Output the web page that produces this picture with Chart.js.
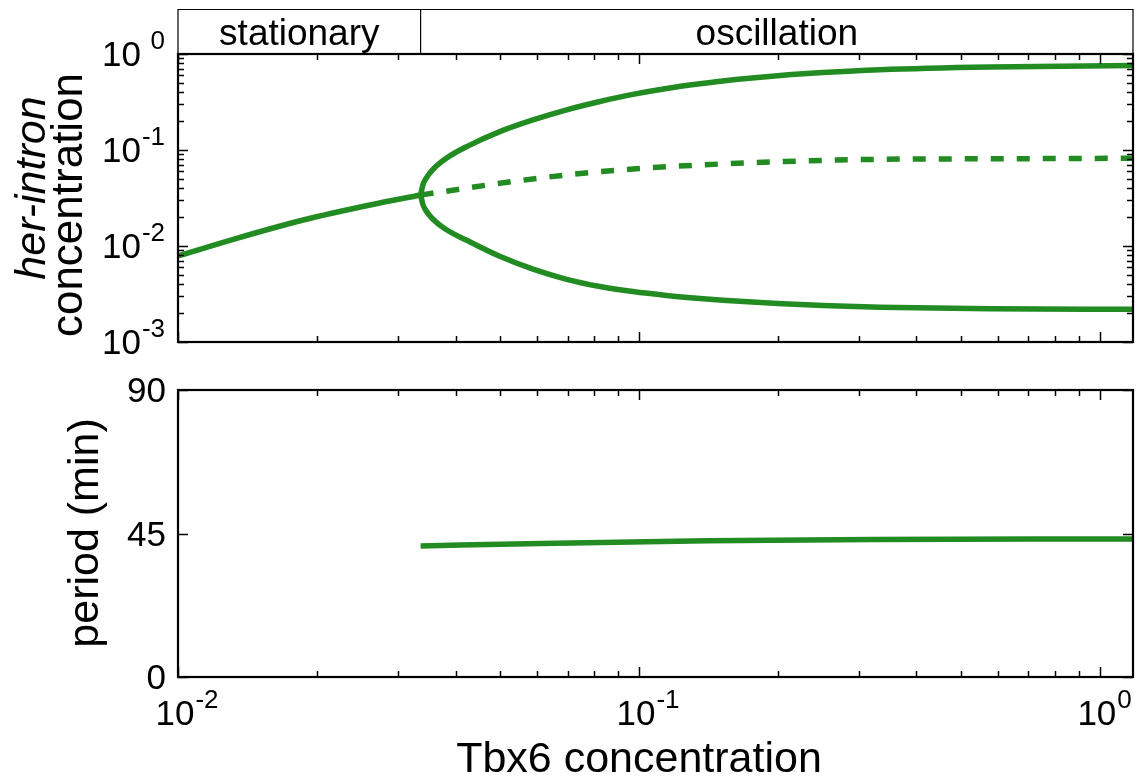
<!DOCTYPE html>
<html>
<head>
<meta charset="utf-8">
<title>her-intron bifurcation</title>
<script src="https://cdn.jsdelivr.net/npm/chart.js@4.4.0/dist/chart.umd.min.js"></script>
<style>
  body { margin: 0; background: #fff; }
  #wrap { position: relative; width: 1139px; height: 779px; }
  canvas { position: absolute; left: 0; top: 0; }
</style>
</head>
<body>
<div id="wrap">
  <canvas id="top" width="1139" height="779"></canvas>
  <canvas id="bottom" width="1139" height="779"></canvas>
</div>
<script>
// values
const regimes = ['stationary', 'oscillation'];
const bifurcationTbx6 = 0.0336;

const tbx6Stationary = [0.01, 0.01341, 0.0187, 0.02609, 0.0336];
const herStationary = [0.00787, 0.01203, 0.01866, 0.02674, 0.034];

const tbx6Osc = [0.0336, 0.0340, 0.0345, 0.0357, 0.0380, 0.0423, 0.0499, 0.0589, 0.0697, 0.0823, 0.097, 0.1148, 0.1356, 0.152, 0.200, 0.2506, 0.333, 0.577, 1.18];
const herMax = [0.034, 0.0436, 0.0504, 0.0626, 0.0806, 0.1085, 0.1555, 0.2059, 0.2622, 0.320, 0.3795, 0.4372, 0.4893, 0.5233, 0.5929, 0.6401, 0.6856, 0.7321, 0.7571];
const herMin = [0.034, 0.0269, 0.0234, 0.0191, 0.01503, 0.01147, 0.00781, 0.005733, 0.004498, 0.003785, 0.00335, 0.003051, 0.002838, 0.002725, 0.002518, 0.0024, 0.002304, 0.002215, 0.002191];

const tbx6Unstable = [0.0336, 0.0376, 0.0499, 0.0697, 0.097, 0.1295, 0.200, 0.333, 0.577, 1.18];
const herUnstable = [0.034, 0.0368, 0.045, 0.055, 0.0634, 0.069, 0.0755, 0.080, 0.081, 0.082];

const tbx6Period = [0.0336, 0.0614, 0.1405, 0.32, 1.18];
const periodMin = [41.1, 41.9, 42.7, 43.1, 43.3];

const xTickLabels = ['-2', '-1', '0'];
const yTickLabelsTop = ['0', '-1', '-2', '-3'];
const yTicksBottom = [0, 45, 90];

const GREEN = '#228b22';
const FONT = '"Liberation Sans", Arial, Helvetica, sans-serif';

function zip(xs, ys) {
  return xs.map((x, i) => ({ x: x, y: ys[i] }));
}

function logTicks(lo, hi) {
  const major = [], minor = [];
  for (let d = Math.floor(Math.log10(lo)); d <= Math.ceil(Math.log10(hi)); d++) {
    for (let k = 1; k <= 9; k++) {
      const v = k * Math.pow(10, d);
      if (v < lo * 0.999 || v > hi * 1.001) continue;
      (k === 1 ? major : minor).push(v);
    }
  }
  return { major, minor };
}

function drawTicks(ctx, chart, xt, yt) {
  const a = chart.chartArea;
  const xs = chart.scales.x, ys = chart.scales.y;
  ctx.save();
  ctx.strokeStyle = '#000';
  ctx.lineWidth = 1.5;
  ctx.beginPath();
  [[xt.major, 10], [xt.minor, 6]].forEach(([vals, len]) => {
    vals.forEach(v => {
      const px = Math.round(xs.getPixelForValue(v)) + 0.5;
      ctx.moveTo(px, a.bottom); ctx.lineTo(px, a.bottom - len);
      ctx.moveTo(px, a.top); ctx.lineTo(px, a.top + len);
    });
  });
  [[yt.major, 10], [yt.minor, 6]].forEach(([vals, len]) => {
    vals.forEach(v => {
      const py = Math.round(ys.getPixelForValue(v)) + 0.5;
      ctx.moveTo(a.left, py); ctx.lineTo(a.left + len, py);
      ctx.moveTo(a.right, py); ctx.lineTo(a.right - len, py);
    });
  });
  ctx.stroke();
  ctx.lineWidth = 2.2;
  ctx.strokeRect(a.left, a.top, a.right - a.left, a.bottom - a.top);
  ctx.restore();
}

// "10" with a raised exponent
function powLabel(ctx, exp, x, baseY, supY, align) {
  ctx.font = '35px ' + FONT;
  const wb = ctx.measureText('10').width;
  ctx.font = '26px ' + FONT;
  const ws = ctx.measureText(exp).width;
  ctx.textBaseline = 'alphabetic';
  ctx.textAlign = 'left';
  if (align === 'right') {
    ctx.font = '35px ' + FONT;
    ctx.fillText('10', 102, baseY);
    ctx.font = '26px ' + FONT;
    ctx.fillText(exp, Math.max(102 + wb + 1, x - ws), supY);
  } else {
    const x0 = x - wb / 2;
    ctx.font = '35px ' + FONT;
    ctx.fillText('10', x0, baseY);
    ctx.font = '26px ' + FONT;
    ctx.fillText(exp, x0 + wb + 1, supY);
  }
}

function rotText(ctx, text, font, x, y) {
  ctx.save();
  ctx.translate(x, y);
  ctx.rotate(-Math.PI / 2);
  ctx.font = font;
  ctx.textAlign = 'center';
  ctx.textBaseline = 'alphabetic';
  ctx.fillText(text, 0, 0);
  ctx.restore();
}

const xTicks = logTicks(0.01, 1.18);

const topDecor = {
  id: 'topDecor',
  afterDraw(chart) {
    const ctx = chart.ctx, a = chart.chartArea;
    const xs = chart.scales.x, ys = chart.scales.y;
    drawTicks(ctx, chart, xTicks, logTicks(0.001, 1));

    // header box with the two regimes
    const split = xs.getPixelForValue(bifurcationTbx6);
    ctx.save();
    ctx.strokeStyle = '#000';
    ctx.lineWidth = 1.2;
    ctx.beginPath();
    ctx.moveTo(a.left, a.top); ctx.lineTo(a.left, 9.5); ctx.lineTo(a.right, 9.5); ctx.lineTo(a.right, a.top);
    ctx.moveTo(split, 9.5); ctx.lineTo(split, a.top);
    ctx.stroke();
    ctx.fillStyle = '#000';
    ctx.font = '37px ' + FONT;
    ctx.textAlign = 'center';
    ctx.textBaseline = 'alphabetic';
    ctx.fillText(regimes[0], (a.left + split) / 2, 45);
    ctx.fillText(regimes[1], (split + a.right) / 2, 45);

    yTickLabelsTop.forEach(e => {
      const py = ys.getPixelForValue(Math.pow(10, Number(e)));
      powLabel(ctx, e, 165, py + 12, py - 5, 'right');
    });

    rotText(ctx, 'her-intron', 'italic 43px ' + FONT, 45, 188);
    rotText(ctx, 'concentration', '44px ' + FONT, 82, 205);
    ctx.restore();
  }
};

const bottomDecor = {
  id: 'bottomDecor',
  afterDraw(chart) {
    const ctx = chart.ctx;
    const xs = chart.scales.x, ys = chart.scales.y;
    drawTicks(ctx, chart, xTicks, { major: yTicksBottom, minor: [] });
    ctx.save();
    ctx.fillStyle = '#000';
    ctx.font = '35px ' + FONT;
    ctx.textAlign = 'right';
    ctx.textBaseline = 'alphabetic';
    yTicksBottom.forEach(v => {
      ctx.fillText(String(v), 166, ys.getPixelForValue(v) + 12);
    });
    xTickLabels.forEach(e => {
      const px = xs.getPixelForValue(Math.pow(10, Number(e)));
      powLabel(ctx, e, px - 3, 725, 708, 'center');
    });
    rotText(ctx, 'period (min)', '43px ' + FONT, 98, 533);
    ctx.font = '43px ' + FONT;
    ctx.textAlign = 'center';
    ctx.fillText('Tbx6 concentration', 639, 772);
    ctx.restore();
  }
};

function lineSet(data, dash) {
  return {
    data: data,
    borderColor: GREEN,
    borderWidth: 5.5,
    borderDash: dash || [],
    borderCapStyle: 'butt',
    borderJoinStyle: 'round',
    pointRadius: 0,
    cubicInterpolationMode: 'monotone',
    fill: false
  };
}

const baseOptions = (padding, yScale) => ({
  responsive: false,
  animation: false,
  layout: { autoPadding: false, padding: padding },
  plugins: { legend: { display: false }, tooltip: { enabled: false } },
  scales: {
    x: { type: 'logarithmic', min: 0.01, max: 1.18, display: false },
    y: yScale
  }
});

new Chart(document.getElementById('top'), {
  type: 'line',
  data: {
    datasets: [
      lineSet(zip(tbx6Stationary, herStationary)),
      lineSet(zip(tbx6Osc, herMax)),
      lineSet(zip(tbx6Osc, herMin)),
      lineSet(zip(tbx6Unstable, herUnstable), [13, 13])
    ]
  },
  options: baseOptions({ left: 178, right: 6, top: 54, bottom: 437 },
    { type: 'logarithmic', min: 0.001, max: 1, display: false }),
  plugins: [topDecor]
});

new Chart(document.getElementById('bottom'), {
  type: 'line',
  data: { datasets: [lineSet(zip(tbx6Period, periodMin))] },
  options: baseOptions({ left: 178, right: 6, top: 390, bottom: 102 },
    { type: 'linear', min: 0, max: 90, display: false }),
  plugins: [bottomDecor]
});
</script>
</body>
</html>
